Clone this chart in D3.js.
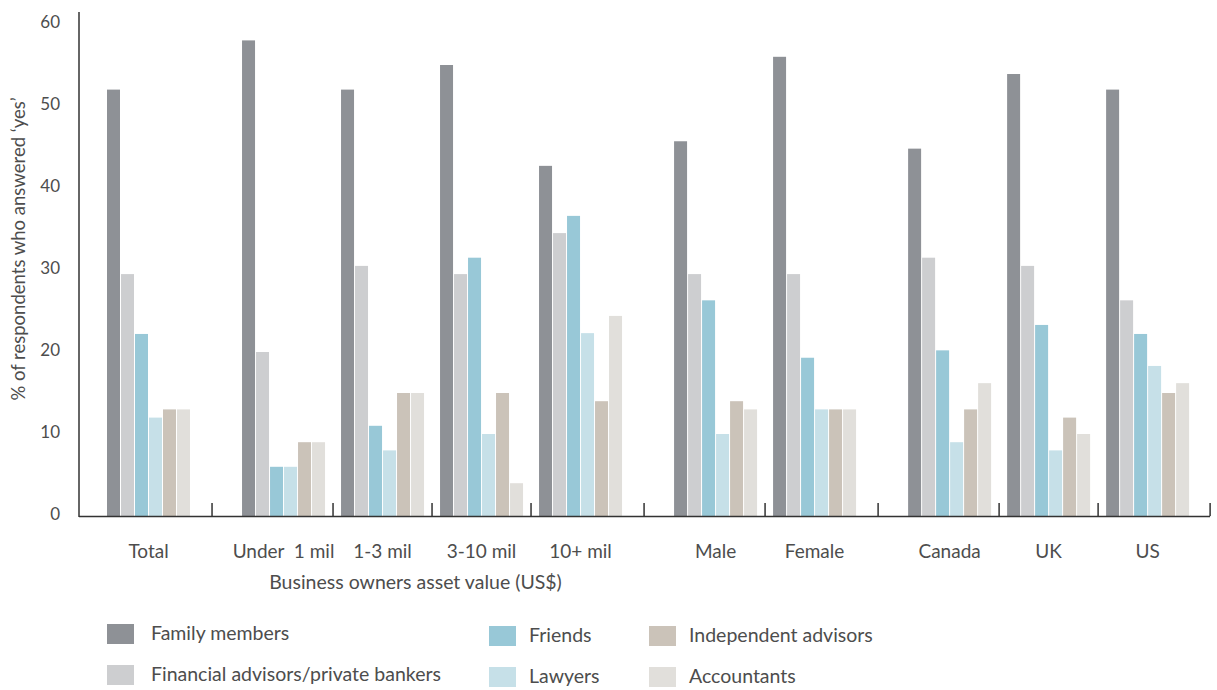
<!DOCTYPE html>
<head>
  <meta charset="utf-8">
  <script src="https://cdn.jsdelivr.net/npm/d3@7"></script>
  <style>
    body { margin: 0; background: #fff; }
    svg text { font-family: Lato, "Open Sans", sans-serif; fill: #4d4d4d; }
  </style>
</head>
<body>
<div id="chart"></div>
<script>
  // categories and the section each one belongs to
  var groups = ["Total", "Under  1 mil", "1-3 mil", "3-10 mil", "10+ mil", "Male", "Female", "Canada", "UK", "US"];
  var sections = [0, 1, 1, 1, 1, 2, 2, 3, 3, 3];
  var seriesNames = ["Family members", "Financial advisors/private bankers", "Friends", "Lawyers", "Independent advisors", "Accountants"];
  var colors = ["#8e9196", "#cdced0", "#98c8d7", "#c6e0e8", "#cbc3b9", "#e1dfdb"];

  // % answering yes, one array per series, in group order
  var family      = [52, 58, 52, 55, 42.7, 45.7, 56, 44.8, 53.9, 52];
  var financial   = [29.5, 20, 30.5, 29.5, 34.5, 29.5, 29.5, 31.5, 30.5, 26.3];
  var friends     = [22.2, 6, 11, 31.5, 36.6, 26.3, 19.3, 20.2, 23.3, 22.2];
  var lawyers     = [12, 6, 8, 10, 22.3, 10, 13, 9, 8, 18.3];
  var independent = [13, 9, 15, 15, 14, 14, 13, 13, 12, 15];
  var accountants = [13, 9, 15, 4, 24.4, 13, 13, 16.2, 10, 16.2];
  var seriesValues = [family, financial, friends, lawyers, independent, accountants];

  var yTicks = [0, 10, 20, 30, 40, 50, 60];
  var yTitle = "% of respondents who answered \u2018yes\u2019";
  var assetTitle = "Business owners asset value (US$)";

  var width = 1217, height = 690;
  var base = 516;

  var svg = d3.select("#chart").append("svg")
    .attr("width", width).attr("height", height);

  var y = d3.scaleLinear().domain([0, 60]).range([base, 24]);

  // group slot -> pixel; sections get an extra gap between them
  var sectionGap = 0.364;
  var slot = d3.scaleLinear().domain([0, 1]).range([107, 206]);
  function groupX(i) { return slot(i + sections[i] * sectionGap); }

  var inner = d3.scaleBand().domain(d3.range(seriesNames.length)).range([0, 84]);
  var barW = inner.bandwidth() - 1;

  // bars
  groups.forEach(function(g, i) {
    var gx = groupX(i);
    svg.append("g")
      .selectAll("rect")
      .data(seriesValues.map(function(arr, s) { return {s: s, v: arr[i]}; }))
      .join("rect")
      .attr("x", function(d) { return gx + inner(d.s); })
      .attr("width", barW)
      .attr("y", function(d) { return y(d.v); })
      .attr("height", function(d) { return base - y(d.v); })
      .attr("fill", function(d) { return colors[d.s]; });
  });

  // baseline + y axis line
  var yAxisX = groupX(0) - 28;
  var lastEnd = groupX(groups.length - 1) + 84;
  svg.append("line")
    .attr("x1", yAxisX).attr("x2", lastEnd + 20)
    .attr("y1", base + 0.5).attr("y2", base + 0.5)
    .attr("stroke", "#333").attr("stroke-width", 1.5);
  svg.append("line")
    .attr("x1", yAxisX).attr("x2", yAxisX)
    .attr("y1", 12).attr("y2", base + 1)
    .attr("stroke", "#333").attr("stroke-width", 1.5);

  // separators between groups
  var seps = groups.slice(1).map(function(g, k) {
    var i = k + 1;
    return groupX(i) - (sections[i] !== sections[i - 1] ? 30 : 8);
  });
  seps.push(lastEnd + 20);
  svg.append("g").selectAll("line")
    .data(seps)
    .join("line")
    .attr("x1", function(d) { return d; }).attr("x2", function(d) { return d; })
    .attr("y1", base - 13).attr("y2", base)
    .attr("stroke", "#333").attr("stroke-width", 1.5);

  // y tick labels
  var yAxis = svg.append("g")
    .attr("transform", "translate(" + yAxisX + ",-2)")
    .call(d3.axisLeft(y).tickValues(yTicks).tickSize(0).tickPadding(19));
  yAxis.select(".domain").remove();
  yAxis.selectAll("text").style("font-size", "17px").style("font-family", "Lato, sans-serif").attr("fill", "#4d4d4d");

  // y title
  svg.append("text")
    .attr("transform", "translate(25,249) rotate(-90)")
    .attr("text-anchor", "middle")
    .style("font-size", "18.5px")
    .text(yTitle);

  // category labels
  svg.append("g").selectAll("text")
    .data(groups)
    .join("text")
    .attr("x", function(d, i) { return groupX(i) + 41.5; })
    .attr("y", 558)
    .attr("text-anchor", "middle")
    .style("font-size", "19px")
    .style("white-space", "pre")
    .text(function(d) { return d; });

  // asset section title
  var assetIdx = groups.map(function(g, i) { return i; }).filter(function(i) { return sections[i] === 1; });
  var assetMid = (groupX(assetIdx[0]) + groupX(assetIdx[assetIdx.length - 1]) + 84) / 2 - 17;
  svg.append("text")
    .attr("x", assetMid).attr("y", 589)
    .attr("text-anchor", "middle")
    .style("font-size", "19.5px")
    .text(assetTitle);

  // legend: 3 columns x 2 rows
  var legX = [107, 489, 649];
  var legend = svg.append("g").selectAll("g")
    .data(seriesNames)
    .join("g")
    .attr("transform", function(d, i) {
      var col = Math.floor(i / 2), row = i % 2;
      var cy = (col === 0 ? 634 : 636) + row * 41;
      return "translate(" + legX[col] + "," + cy + ")";
    });
  legend.append("rect")
    .attr("x", 0).attr("y", -10).attr("width", 27).attr("height", 20)
    .attr("fill", function(d, i) { return colors[i]; });
  legend.append("text")
    .attr("x", function(d, i) { return i < 2 ? 44 : 40; }).attr("y", 6)
    .style("font-size", "19.5px")
    .text(function(d) { return d; });
</script>
</body>
